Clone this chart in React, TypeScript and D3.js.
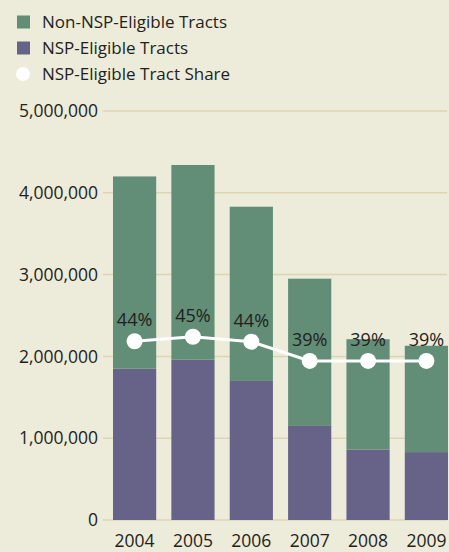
import React from "react";
import * as d3 from "d3";

const years = ["2004", "2005", "2006", "2007", "2008", "2009"];
const nspEligible = [1850000, 1960000, 1700000, 1150000, 860000, 830000];
const nonNspEligible = [2350000, 2380000, 2130000, 1800000, 1350000, 1300000];
const sharePct = [43.7, 44.8, 43.6, 38.9, 38.9, 38.9];
const yTicks = [0, 1000000, 2000000, 3000000, 4000000, 5000000];
const legendItems = ["Non-NSP-Eligible Tracts", "NSP-Eligible Tracts", "NSP-Eligible Tract Share"];

const W = 449, H = 552;
const BG = "#EDEBDA";
const GREEN = "#628D76";
const PURPLE = "#676288";
const GRID = "#DDD5B2";
const TEXT = "#231F20";
const FONT = "'Open Sans', sans-serif";

export default function App() {
  const x = d3.scaleBand<string>().domain(years).range([113, 448]).paddingInner(0.26).paddingOuter(0);
  const y = d3.scaleLinear().domain([0, 5000000]).range([520, 111]);
  const fmt = d3.format(",");
  const rows = years.map((yr, i) => ({ yr, nsp: nspEligible[i], non: nonNspEligible[i], share: sharePct[i] }));
  const stack = d3.stack<any>().keys(["nsp", "non"])(rows);
  const colors = [PURPLE, GREEN];
  const shareY = (s: number) => y((s / 100) * 5000000);
  const line = d3.line<any>().x((d) => x(d.yr)! + x.bandwidth() / 2).y((d) => shareY(d.share));

  return (
    <svg width={W} height={H} style={{ display: "block", position: "absolute", left: 0, top: 0 }} fontFamily={FONT}>
      <rect width={W} height={H} fill={BG} />
      {/* legend */}
      {legendItems.map((t, i) => (
        <g key={t} transform={`translate(0, ${22 + i * 26})`}>
          {i < 2 ? (
            <rect x={17} y={-6.5} width={13} height={13} fill={i === 0 ? GREEN : PURPLE} />
          ) : (
            <circle cx={23} cy={0} r={7} fill="#fff" />
          )}
          <text x={42} y={0} dy="0.35em" fontSize={17} fill={TEXT}>{t}</text>
        </g>
      ))}
      {/* grid */}
      {yTicks.map((t) => (
        <line key={t} x1={103} x2={447} y1={y(t)} y2={y(t)} stroke={GRID} strokeWidth={1.5} />
      ))}
      {yTicks.map((t) => (
        <text key={"l" + t} x={98} y={y(t)} dy="0.35em" textAnchor="end" fontSize={17.5} fill={TEXT}>{fmt(t)}</text>
      ))}
      {/* bars */}
      {stack.map((s, si) =>
        s.map((d: any, i: number) => (
          <rect key={si + "-" + i} x={x(years[i])} width={x.bandwidth()} y={y(d[1])} height={y(d[0]) - y(d[1])} fill={colors[si]} />
        ))
      )}
      {/* x labels */}
      {years.map((yr) => (
        <text key={yr} x={x(yr)! + x.bandwidth() / 2} y={547} textAnchor="middle" fontSize={17.5} fill={TEXT}>{yr}</text>
      ))}
      {/* share line */}
      <path d={line(rows) || ""} fill="none" stroke="#fff" strokeWidth={3} />
      {rows.map((d) => (
        <g key={"s" + d.yr}>
          <circle cx={x(d.yr)! + x.bandwidth() / 2} cy={shareY(d.share)} r={8} fill="#fff" />
          <text x={x(d.yr)! + x.bandwidth() / 2} y={shareY(d.share) - 15} textAnchor="middle" fontSize={18} fill={TEXT}>
            {Math.round(d.share)}%
          </text>
        </g>
      ))}
    </svg>
  );
}
